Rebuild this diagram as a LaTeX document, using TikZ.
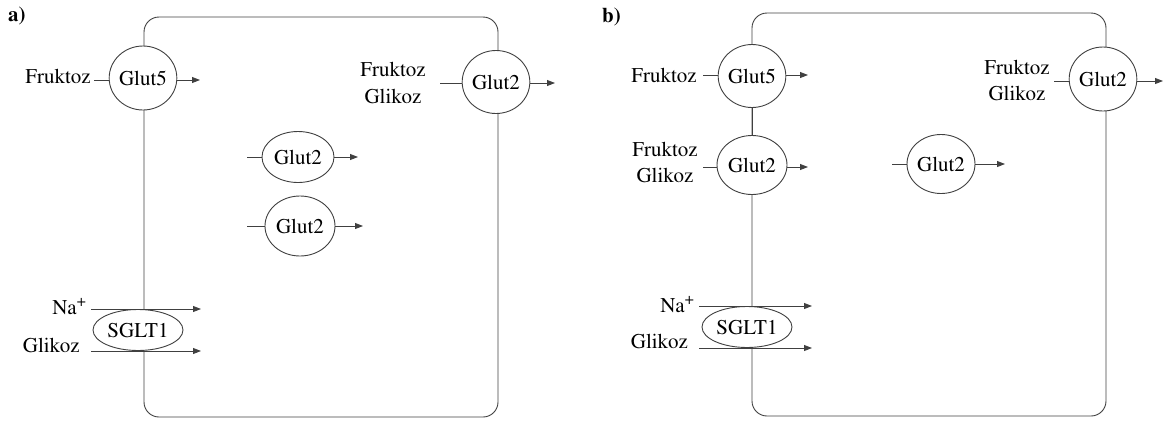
\documentclass[tikz,border=0pt]{standalone}
\usepackage[T1]{fontenc}
\renewcommand{\rmdefault}{ptm}
\usetikzlibrary{arrows.meta,shapes.geometric}
\begin{document}
\begin{tikzpicture}[x=1pt,y=-1pt,
  ln/.style={line width=0.9pt, draw=black!75},
  arr/.style={ln,-{Triangle[length=8pt,width=6pt]}},
  tp/.style={ellipse, draw=black!75, line width=0.9pt, fill=white, inner sep=0pt,
     font=\rmfamily\fontsize{21}{24}\selectfont},
  lbl/.style={font=\rmfamily\fontsize{21}{24}\selectfont, inner sep=0pt},
  cell/.style={ln, rounded corners=15pt},
]
\useasboundingbox (0,0) rectangle (1163,424);

% ---------------- panel a ----------------
\node[lbl, font=\rmfamily\fontsize{21}{24}\selectfont\bfseries, anchor=base west] (la) at (8,21) {a)};
\draw[cell] (144,17) rectangle (498,417);

\node[tp, minimum width=60pt, minimum height=64pt] (a5) at (143,78) {Glut5};
\node[tp, minimum width=62pt, minimum height=63pt] (a2r) at (496,82) {Glut2};
\node[tp, minimum width=72pt, minimum height=51pt] (a2i) at (298,157) {Glut2};
\node[tp, minimum width=70pt, minimum height=60pt] (a2j) at (300,226) {Glut2};
\node[tp, minimum width=90pt, minimum height=41pt] (asg) at (138,330) {SGLT1};

\node[lbl, anchor=base east] (afr) at (91,83) {Fruktoz};
\node[lbl, anchor=base] (afr2) at (393,76) {Fruktoz};
\node[lbl, anchor=base] (agl2) at (393,103) {Glikoz};
\node[lbl, anchor=base east] (ana) at (86,314) {Na\raisebox{8pt}{\fontsize{16}{16}\selectfont +}};
\node[lbl, anchor=base east] (agl) at (80,352) {Glikoz};

\coordinate (a5in) at (94,80);
\coordinate (a5out) at (200,80);
\draw[ln] (a5in) -- (a5in -| a5.west);
\draw[arr] (a5in -| a5.east) -- (a5out);

\coordinate (a2rin) at (440,83);
\coordinate (a2rout) at (555,83);
\draw[ln] (a2rin) -- (a2rin -| a2r.west);
\draw[arr] (a2rin -| a2r.east) -- (a2rout);

\coordinate (a2iin) at (247,157);
\coordinate (a2iout) at (358,157);
\draw[ln] (a2iin) -- (a2i.west);
\draw[arr] (a2i.east) -- (a2iout);

\coordinate (a2jin) at (247,226);
\coordinate (a2jout) at (363,226);
\draw[ln] (a2jin) -- (a2j.west);
\draw[arr] (a2j.east) -- (a2jout);

\coordinate (anain) at (91,309);
\coordinate (anaout) at (201,309);
\coordinate (aglin) at (91,351);
\coordinate (aglout) at (201,351);
\draw[arr] (anain) -- (anaout);
\draw[arr] (aglin) -- (aglout);

% ---------------- panel b ----------------
\node[lbl, font=\rmfamily\fontsize{21}{24}\selectfont\bfseries, anchor=base west] (lb) at (602,22) {b)};
\draw[cell] (752,13) rectangle (1106,416);

\node[tp, minimum width=62pt, minimum height=63pt] (b5) at (752,76) {Glut5};
\node[tp, minimum width=70pt, minimum height=59pt] (b2m) at (752,165) {Glut2};
\node[tp, minimum width=60pt, minimum height=64pt] (b2r) at (1103,79) {Glut2};
\node[tp, minimum width=68pt, minimum height=59pt] (b2i) at (941,164) {Glut2};
\node[tp, minimum width=90pt, minimum height=41pt] (bsg) at (747,327) {SGLT1};
\draw[ln] (b5.south) -- (b2m.north);

\node[lbl, anchor=base east] (bfr) at (697,82) {Fruktoz};
\node[lbl, anchor=base] (bfr2) at (665,156) {Fruktoz};
\node[lbl, anchor=base] (bgl2) at (665,182) {Glikoz};
\node[lbl, anchor=base] (bfr3) at (1017,74) {Fruktoz};
\node[lbl, anchor=base] (bgl3) at (1017,100) {Glikoz};
\node[lbl, anchor=base east] (bna) at (694,312) {Na\raisebox{8pt}{\fontsize{16}{16}\selectfont +}};
\node[lbl, anchor=base east] (bgl) at (688,348) {Glikoz};

\coordinate (b5in) at (703,75);
\coordinate (b5out) at (808,75);
\draw[ln] (b5in) -- (b5in -| b5.west);
\draw[arr] (b5in -| b5.east) -- (b5out);

\coordinate (b2min) at (703,167);
\coordinate (b2mout) at (808,167);
\draw[ln] (b2min) -- (b2min -| b2m.west);
\draw[arr] (b2min -| b2m.east) -- (b2mout);

\coordinate (b2rin) at (1054,81);
\coordinate (b2rout) at (1163,81);
\draw[ln] (b2rin) -- (b2rin -| b2r.west);
\draw[arr] (b2rin -| b2r.east) -- (b2rout);

\coordinate (b2iin) at (892,164);
\coordinate (b2iout) at (1005,164);
\draw[ln] (b2iin) -- (b2i.west);
\draw[arr] (b2i.east) -- (b2iout);

\coordinate (bnain) at (699,306);
\coordinate (bnaout) at (812,306);
\coordinate (bglin) at (699,348);
\coordinate (bglout) at (812,348);
\draw[arr] (bnain) -- (bnaout);
\draw[arr] (bglin) -- (bglout);
\end{tikzpicture}
\end{document}
